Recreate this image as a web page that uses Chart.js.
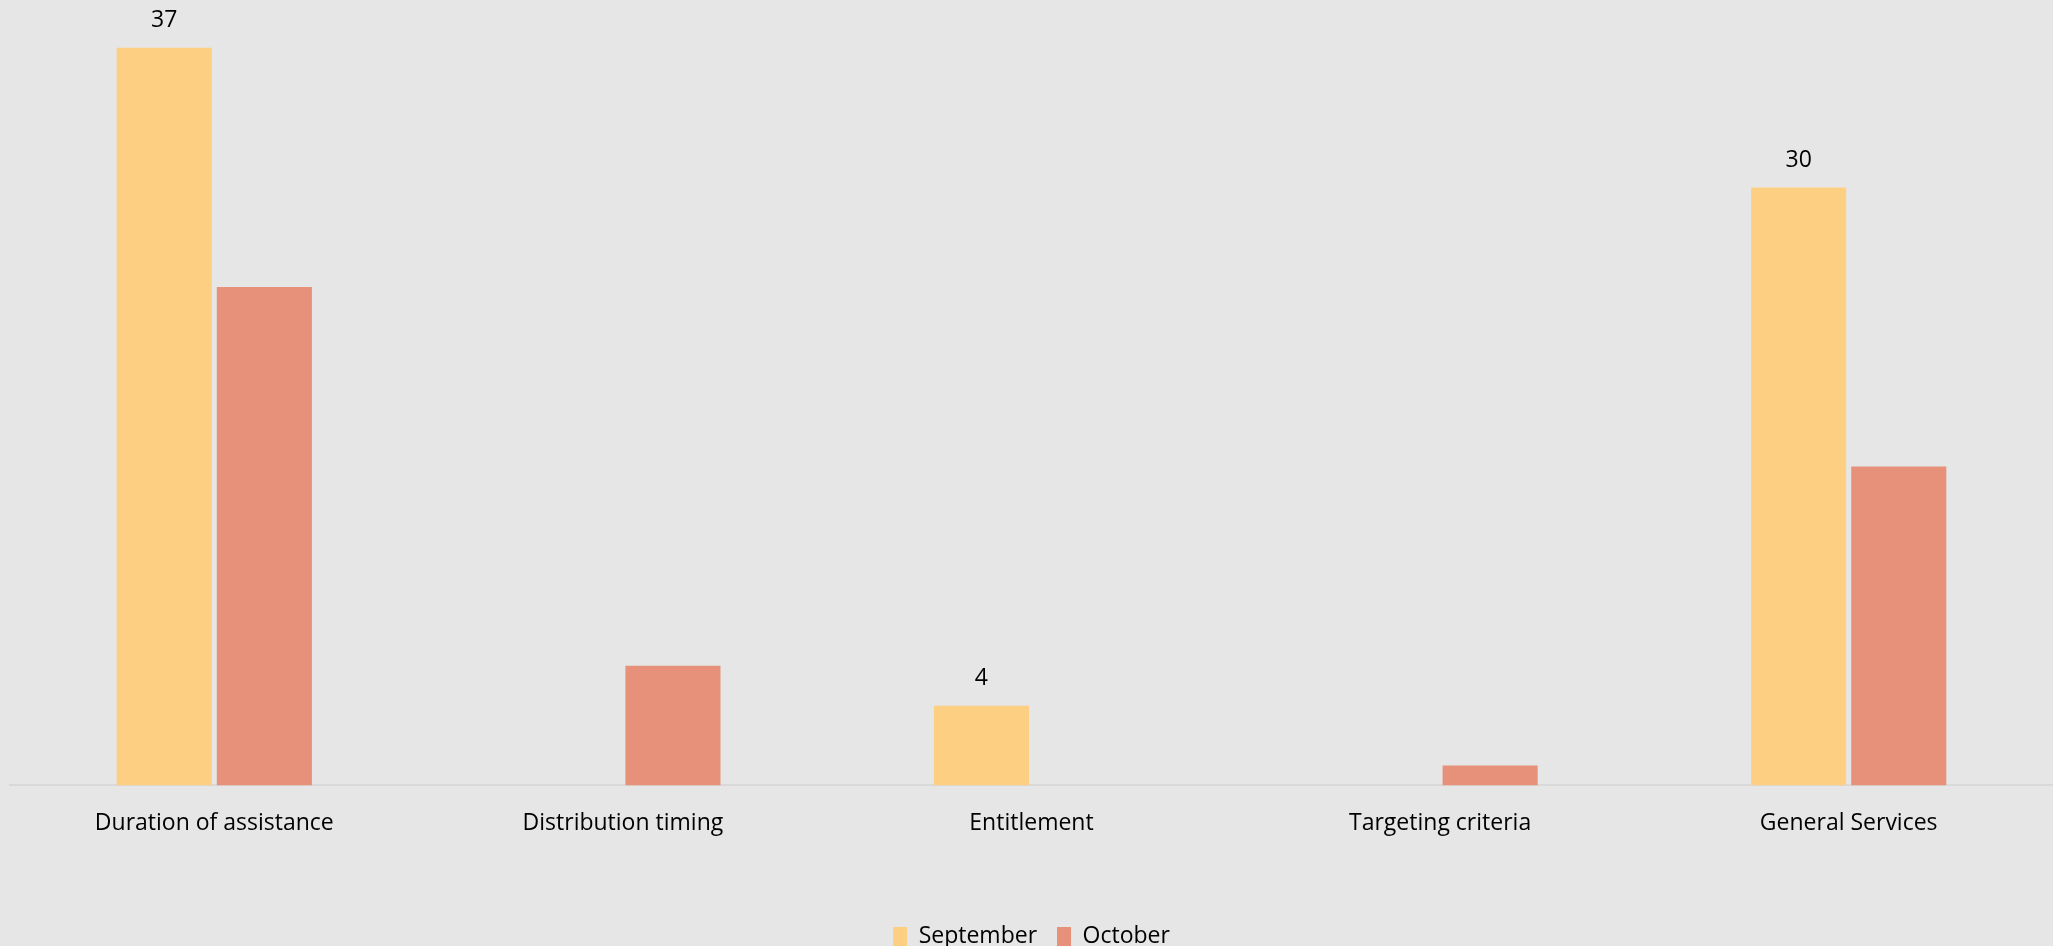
<!DOCTYPE html>
<html>
<head>
<meta charset="utf-8">
<script src="https://cdn.jsdelivr.net/npm/chart.js@4.4.0/dist/chart.umd.min.js"></script>
<style>
    html, body { margin: 0; padding: 0; background: #e6e6e6; }
    #wrap { width: 2053px; height: 946px; position: relative; }
</style>
</head>
<body>
<div id="wrap"><canvas id="feedbackChart"></canvas></div>
<script>
const categories = ['Duration of assistance', 'Distribution timing', 'Entitlement', 'Targeting criteria', 'General Services'];
const septemberValues = [37, 0, 4, 0, 30];
const octoberValues = [25, 6, 0, 1, 16];
const seriesNames = ['September', 'October'];

// value labels above the September bars (zero bars stay unlabelled)
const septLabels = {
    id: 'septLabels',
    afterDatasetsDraw(chart) {
        const ctx = chart.ctx;
        const meta = chart.getDatasetMeta(0);
        ctx.save();
        ctx.font = '23px "Open Sans", sans-serif';
        ctx.fillStyle = '#000';
        ctx.textAlign = 'center';
        ctx.textBaseline = 'middle';
        meta.data.forEach((bar, i) => {
            const v = septemberValues[i];
            if (!v) return;
            ctx.fillText(String(v), bar.x, bar.y - 27);
        });
        ctx.restore();
    }
};

const ctx = document.getElementById('feedbackChart').getContext('2d');
window.feedbackChart = new Chart(ctx, {
    type: 'bar',
    data: {
        labels: categories,
        datasets: [{
            label: seriesNames[0],
            data: septemberValues,
            backgroundColor: '#fdcf83',
            categoryPercentage: 0.49,
            barPercentage: 0.95
        }, {
            label: seriesNames[1],
            data: octoberValues,
            backgroundColor: '#e8917a',
            categoryPercentage: 0.49,
            barPercentage: 0.95
        }]
    },
    options: {
        responsive: true,
        maintainAspectRatio: false,
        animation: false,
        layout: { padding: { left: 10, right: 0, top: 0, bottom: -12 } },
        scales: {
            x: {
                grid: { display: false, drawTicks: false },
                border: { display: true, color: '#d9d9d9', width: 2 },
                ticks: {
                    color: '#000',
                    padding: 24,
                    font: { family: '"Open Sans", sans-serif', size: 23 }
                },
                afterFit(scale) { scale.height += 44; }
            },
            y: {
                display: false,
                min: 0,
                max: 39.4
            }
        },
        plugins: {
            legend: {
                position: 'bottom',
                labels: {
                    color: '#000',
                    boxWidth: 14,
                    boxHeight: 19,
                    padding: 20,
                    font: { family: '"Open Sans", sans-serif', size: 23 }
                }
            },
            tooltip: { enabled: false }
        }
    },
    plugins: [septLabels]
});
</script>
</body>
</html>
